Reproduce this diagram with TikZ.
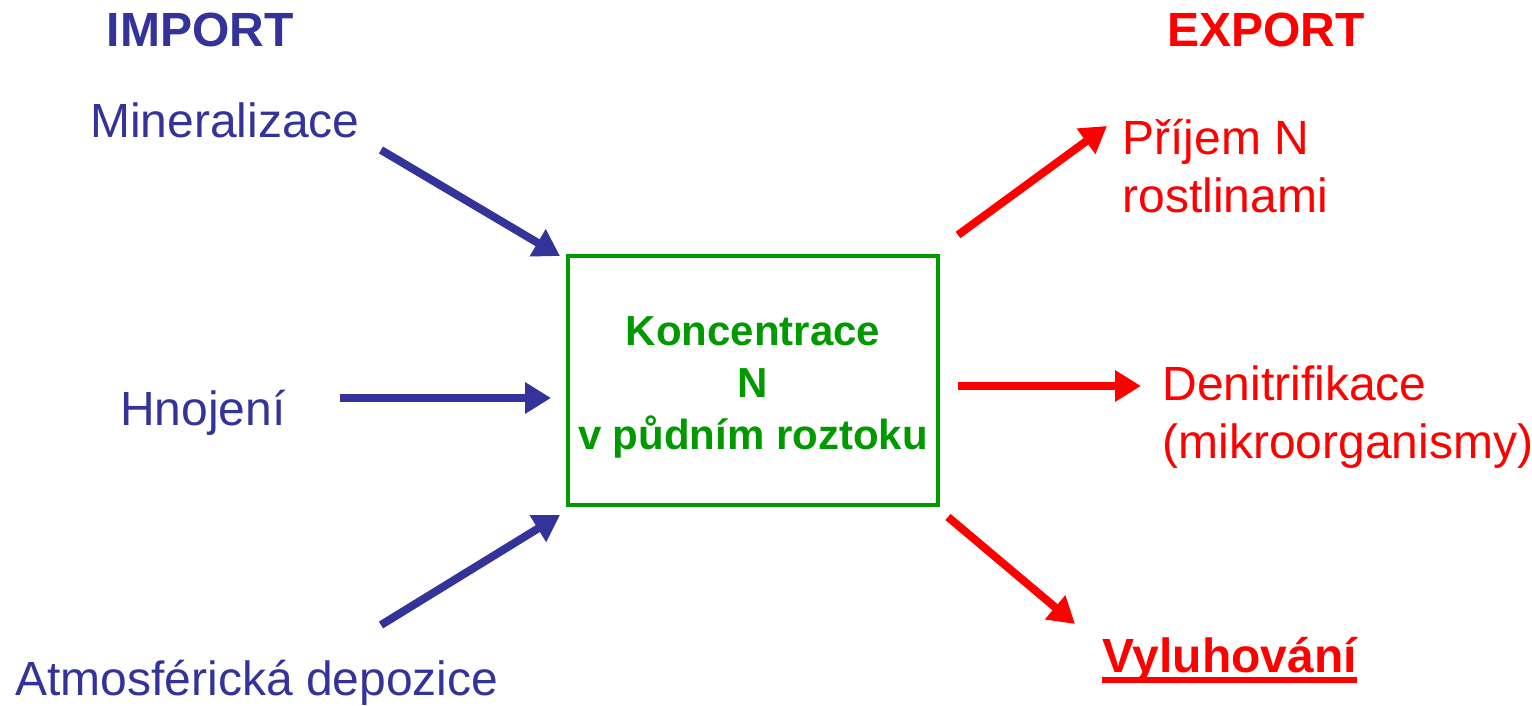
\documentclass[tikz,border=0pt]{standalone}
\usepackage{fontspec}
\setmainfont{Liberation Sans}
\usetikzlibrary{arrows.meta}
\definecolor{importblue}{HTML}{333399}
\definecolor{exportred}{HTML}{FF0000}
\definecolor{poolgreen}{HTML}{009900}

\newcommand{\tok}[3]{% color, from, to
  \draw[#1, line width=4pt, -{Triangle[length=13pt,width=15pt]}] (#2) -- (#3);}

\begin{document}
\begin{tikzpicture}[x=0.5pt, y=-0.5pt, font=\fontsize{24}{29}\selectfont,
  lbl/.style={inner sep=0pt, align=left}]
  \useasboundingbox (0,0) rectangle (1532,706);

  % headings
  \node[lbl, anchor=base, importblue, font=\fontsize{24}{29}\selectfont\bfseries] (import) at (200,47) {IMPORT};
  \node[lbl, anchor=base, exportred, font=\fontsize{24}{29}\selectfont\bfseries] (export) at (1266,47) {EXPORT};

  % pool
  \node[draw=poolgreen, line width=2pt, minimum width=185pt, minimum height=124.5pt] (pool) at (753,380.5) {};
  \node[text=poolgreen, align=center, inner sep=0pt, font=\fontsize{21}{26}\selectfont\bfseries]
        (poolTxt) at (753,387) {Koncentrace\\N\\v půdním roztoku};

  % sources
  \node[lbl, anchor=base, importblue] (miner) at (225,138) {Mineralizace};
  \node[lbl, anchor=base, importblue] (hnoj) at (203,425) {Hnojení};
  \node[lbl, anchor=base, importblue] (atmo) at (257,695) {Atmosférická depozice};

  % sinks (base = last line)
  \node[lbl, anchor=base west, exportred] (prijem) at (1122,213) {Příjem N\\rostlinami};
  \node[lbl, anchor=base west, exportred] (denit) at (1162,458) {Denitrifikace\\(mikroorganismy)};
  \node[lbl, anchor=base west, exportred, font=\fontsize{24}{29}\selectfont\bfseries] (vyl) at (1102,672) {Vyluhování};
  \draw[exportred, line width=3pt] ([yshift=-4pt]vyl.base west) -- ([yshift=-4pt]vyl.base east);

  % flows
  \foreach \n/\ax/\ay/\bx/\by in {min/381/150/560/256, hno/340/398/551/398, atm/381/625/560/515}
    {\coordinate (\n S) at (\ax,\ay); \coordinate (\n E) at (\bx,\by);
     \tok{importblue}{\n S}{\n E}}
  \foreach \n/\ax/\ay/\bx/\by in {pri/958/235/1107/126, den/958/386/1141/386, vyl/948/517/1075/624}
    {\coordinate (\n S) at (\ax,\ay); \coordinate (\n E) at (\bx,\by);
     \tok{exportred}{\n S}{\n E}}
\end{tikzpicture}
\end{document}
